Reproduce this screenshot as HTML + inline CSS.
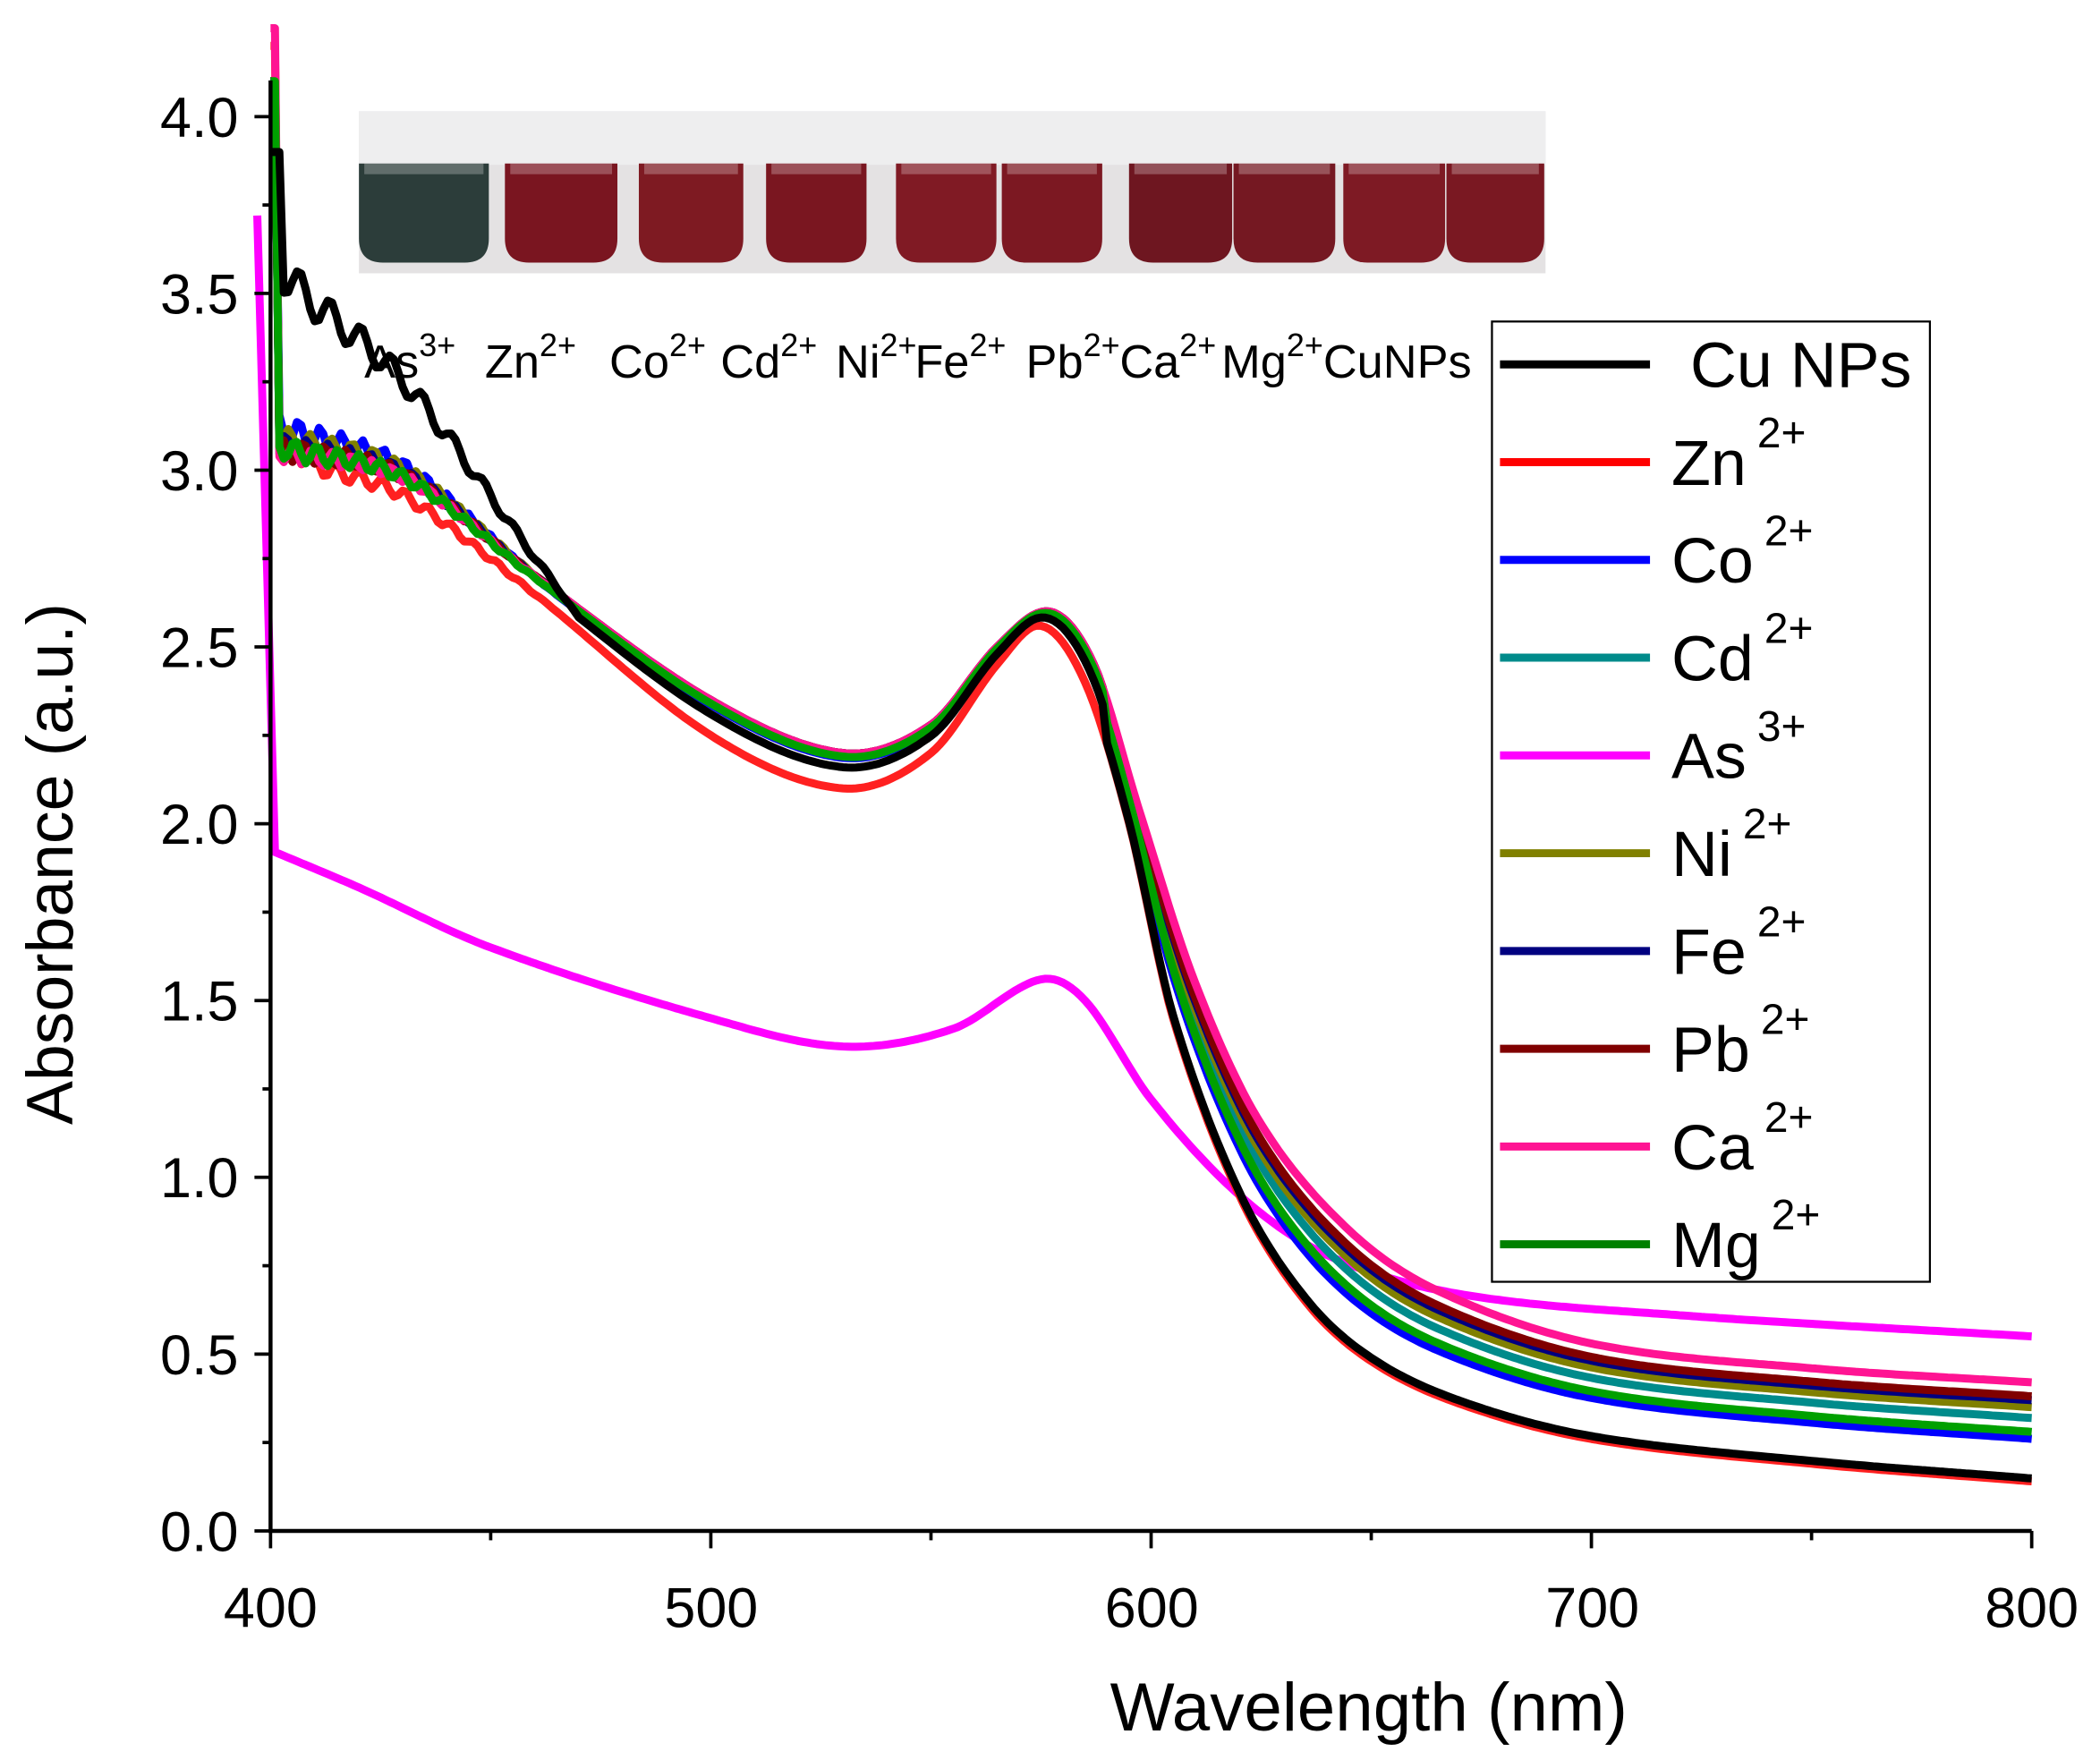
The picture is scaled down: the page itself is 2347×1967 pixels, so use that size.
<!DOCTYPE html>
<html><head><meta charset="utf-8"><style>
html,body{margin:0;padding:0;background:#fff;}
svg{display:block;}
text{font-family:"Liberation Sans",sans-serif;fill:#000;}
</style></head><body>
<svg id="s" width="2347" height="1967" viewBox="0 0 1568 1314" xmlns="http://www.w3.org/2000/svg">
<rect x="268" y="83" width="886" height="121" fill="#e4e2e3"/>
<rect x="268" y="83" width="886" height="40" fill="#eeeeef"/>
<g id="vials"></g>
<g id="curves"></g>
<g stroke="#000" stroke-width="3" fill="none">
<path d="M202 60 V1143 H1517"/>
</g>
<g id="ticks" stroke="#000" stroke-width="2.5"></g>
<g font-size="42" text-anchor="end">
<text x="178" y="1158">0.0</text><text x="178" y="1026">0.5</text><text x="178" y="894">1.0</text>
<text x="178" y="762">1.5</text><text x="178" y="630">2.0</text><text x="178" y="498">2.5</text>
<text x="178" y="366">3.0</text><text x="178" y="234">3.5</text><text x="178" y="102">4.0</text>
</g>
<g font-size="42" text-anchor="middle">
<text x="202" y="1215">400</text><text x="531" y="1215">500</text><text x="860" y="1215">600</text>
<text x="1189" y="1215">700</text><text x="1517" y="1215">800</text>
</g>
<text x="1022" y="1292" font-size="51" text-anchor="middle">Wavelength (nm)</text>
<text transform="translate(54 645) rotate(-90)" font-size="49" text-anchor="middle">Absorbance (a.u.)</text>
<g font-size="35">
<text x="272" y="282">As<tspan dy="-16" font-size="24">3+</tspan></text>
<text x="362" y="282">Zn<tspan dy="-16" font-size="24">2+</tspan></text>
<text x="455" y="282">Co<tspan dy="-16" font-size="24">2+</tspan></text>
<text x="538" y="282">Cd<tspan dy="-16" font-size="24">2+</tspan></text>
<text x="624" y="282">Ni<tspan dy="-16" font-size="24">2+</tspan></text>
<text x="683" y="282">Fe<tspan dy="-16" font-size="24">2+</tspan></text>
<text x="766" y="282">Pb<tspan dy="-16" font-size="24">2+</tspan></text>
<text x="836" y="282">Ca<tspan dy="-16" font-size="24">2+</tspan></text>
<text x="912" y="282">Mg<tspan dy="-16" font-size="24">2+</tspan></text>
<text x="988" y="282">CuNPs</text>
</g>
<rect x="1114" y="240" width="327" height="717" fill="#fff" stroke="#000" stroke-width="1.5"/>
<g id="legend"></g>
</svg>
<script>
var NS="http://www.w3.org/2000/svg";
function el(p,t,a,txt){var e=document.createElementNS(NS,t);for(var k in a)e.setAttribute(k,a[k]);if(txt)e.textContent=txt;p.appendChild(e);return e;}
var X=function(w){return 202+(w-400)*3.2875;},Y=function(a){return 1143-a*264;};
var tg=document.getElementById('ticks');
for(var i=0;i<=16;i++){var a=i*0.25,y=Y(a);el(tg,'line',{x1:202,x2:i%2==0?190:196,y1:y,y2:y});}
for(var w=400;w<=800;w+=50){var x=X(w);el(tg,'line',{x1:x,x2:x,y1:1143,y2:w%100==0?1156:1150});}
var vg=document.getElementById('vials');
var vs=[[268,365,'#2c3d3a'],[377,461,'#7a1520'],[477,555,'#7e1a22'],[572,647,'#7a1620'],[669,744,'#801a24'],[748,823,'#7c1822'],[843,920,'#6e1620'],[921,997,'#751822'],[1003,1079,'#7e1a24'],[1080,1153,'#7a1822']];
vs.forEach(function(v){el(vg,'path',{d:'M'+v[0]+' 122 H'+v[1]+' V178 Q'+v[1]+' 196 '+(v[1]-18)+' 196 H'+(v[0]+18)+' Q'+v[0]+' 196 '+v[0]+' 178 Z',fill:v[2]});
el(vg,'rect',{x:v[0]+4,y:122,width:v[1]-v[0]-8,height:8,fill:'rgba(255,255,255,0.25)'});});
function interp(pts,w){if(w<=pts[0][0])return pts[0][1];for(var i=0;i<pts.length-1;i++){if(w<=pts[i+1][0]){var p0=pts[Math.max(i-1,0)],p1=pts[i],p2=pts[i+1],p3=pts[Math.min(i+2,pts.length-1)];var t=(w-p1[0])/(p2[0]-p1[0]);var t2=t*t,t3=t2*t;
var m1=(p2[1]-p0[1])/(p2[0]-p0[0])*(p2[0]-p1[0]),m2=(p3[1]-p1[1])/(p3[0]-p1[0])*(p2[0]-p1[0]);
if(i==0)m1=p2[1]-p1[1];
return (2*t3-3*t2+1)*p1[1]+(t3-2*t2+t)*m1+(-2*t3+3*t2)*p2[1]+(t3-t2)*m2;}}return pts[pts.length-1][1];}
var R=[[402,3.1],[410,3.02],[430,2.93],[460,2.65],[500,2.25],[530,2.1],[550,2.2],[565,2.45],[575,2.56],[585,2.4],[595,2.0],[605,1.45],[620,0.95],[635,0.65],[650,0.48],[670,0.36],[700,0.26],[750,0.19],[800,0.14]];
var P=[[402,3.05],[430,2.98],[460,2.7],[500,2.35],[530,2.2],[550,2.28],[565,2.5],[577,2.6],[587,2.45],[597,2.05],[610,1.55],[625,1.15],[645,0.85],[665,0.68],[700,0.53],[750,0.46],[800,0.42]];
var AS=[[401,1.92],[420,1.82],[450,1.65],[500,1.45],[530,1.37],[555,1.42],[575,1.56],[585,1.5],[600,1.22],[620,0.95],[640,0.78],[670,0.67],[720,0.61],[800,0.55]];
var cg=document.getElementById('curves');
function path(f,w0){var d='';for(var w=w0;w<=800;w+=1){d+=(d?'L':'M')+X(w).toFixed(1)+' '+Y(f(w)).toFixed(1);}return d;}
function mixed(t,top,noise,seed){return function(w){if(w<=401)return 4.1;var r=interp(R,w),p=interp(P,w),v;
 if(w<590){var tt=Math.min(1,t+0.3);v=r+(p-r)*(0.5+0.5*tt);}else v=r+(p-r)*t;
 if(w<465){v+=noise*Math.sin(w*1.3+seed)*(465-w)/60; v+=top*(465-w)/60;}
 return v;};}
var series=[
 ['#ff00ff',function(w){return w<401?3.72-(w-397)*0.45:interp(AS,w);}],
 ['#ff2020',function(w){if(w<=401)return 4.2;var v=interp(R,w);if(w<465)v+=0.03*Math.sin(w*1.2)*(465-w)/60;return v;}],
 ['#0000ff',mixed(0.43,0.06,0.04,1)],
 ['#008b8b',mixed(0.64,0.02,0.03,3)],
 ['#808000',mixed(0.75,0.04,0.03,4)],
 ['#000080',mixed(0.82,0.02,0.03,5)],
 ['#800000',mixed(0.86,0.01,0.03,6)],
 ['#ff1493',function(w){if(w<=401)return 4.25;var v=interp(P,w);if(w<465)v+=0.025*Math.sin(w*1.4)*(465-w)/60;return v;}],
 ['#00a000',mixed(0.5,0.01,0.03,2)],
 ['#000000',function(w){if(w<=402)return 3.9;var r=interp(R,w),p=interp(P,w),v=w<590?r+(p-r)*0.6:r+(p-r)*0.03;if(w<470)v+=0.5*(470-w)/68+0.05*Math.sin(w*0.9)*(470-w)/60;return v;}]
];
series.forEach(function(s){var d=path(s[1],s[0]=='#ff00ff'?397:400);el(cg,'path',{d:d,fill:'none',stroke:s[0],'stroke-width':6,'stroke-linejoin':'round'});});
var lg=document.getElementById('legend');
var L=[['#000000','Cu NPs',''],['#ff0000',' Zn','2+'],['#0000ff',' Co','2+'],['#008b8b','Cd','2+'],['#ff00ff','As','3+'],['#808000','Ni','2+'],['#000080','Fe','2+'],['#800000','Pb','2+'],['#ff1493','Ca','2+'],['#008000','Mg','2+']];
L.forEach(function(l,i){var y=272+i*73;el(lg,'line',{x1:1120,x2:1232,y1:y,y2:y,stroke:l[0],'stroke-width':6});
var t=el(lg,'text',{x:l[1]=='Cu NPs'?1262:1248,y:y+17,'font-size':48,'xml:space':'preserve'},l[1]);
if(l[2]){el(t,'tspan',{dx:8,dy:-28,'font-size':32},l[2]);}});
</script>
</body></html>
